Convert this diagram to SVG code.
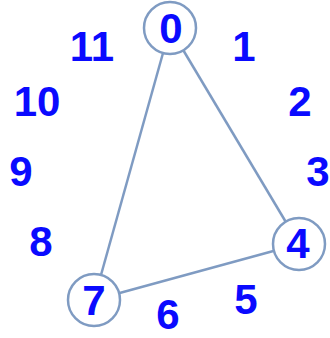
<svg xmlns="http://www.w3.org/2000/svg" width="330" height="338" viewBox="0 0 330 338">
<style>
.edge{stroke:#7f9bc2;stroke-width:2.5;fill:none}
.node circle{fill:#fff;stroke:#7f9bc2;stroke-width:2.5}
text{font-family:"Liberation Sans",Arial,sans-serif;font-weight:bold;font-size:42px;fill:#0a0aff;text-anchor:middle}
</style>
<rect width="330" height="338" fill="#fff"/>
<g id="connectors">
<line class="edge" x1="170" y1="28" x2="94" y2="300"/>
<line class="edge" x1="170" y1="28" x2="299" y2="244"/>
<line class="edge" x1="94" y1="300" x2="299" y2="244"/>
</g>
<g id="node0" class="node"><circle cx="170" cy="28" r="26"/><text x="171" y="43">0</text></g>
<g id="node4" class="node"><circle cx="299" cy="244" r="26"/><text x="298" y="258">4</text></g>
<g id="node7" class="node"><circle cx="94" cy="300" r="26"/><text x="94" y="315">7</text></g>
<g id="labels">
<text x="244" y="61">1</text>
<text x="300" y="116">2</text>
<text x="318" y="186">3</text>
<text x="246" y="314">5</text>
<text x="168" y="329">6</text>
<text x="41" y="256">8</text>
<text x="21" y="186">9</text>
<text x="37" y="116">10</text>
<text x="92" y="61">11</text>
</g>
</svg>
